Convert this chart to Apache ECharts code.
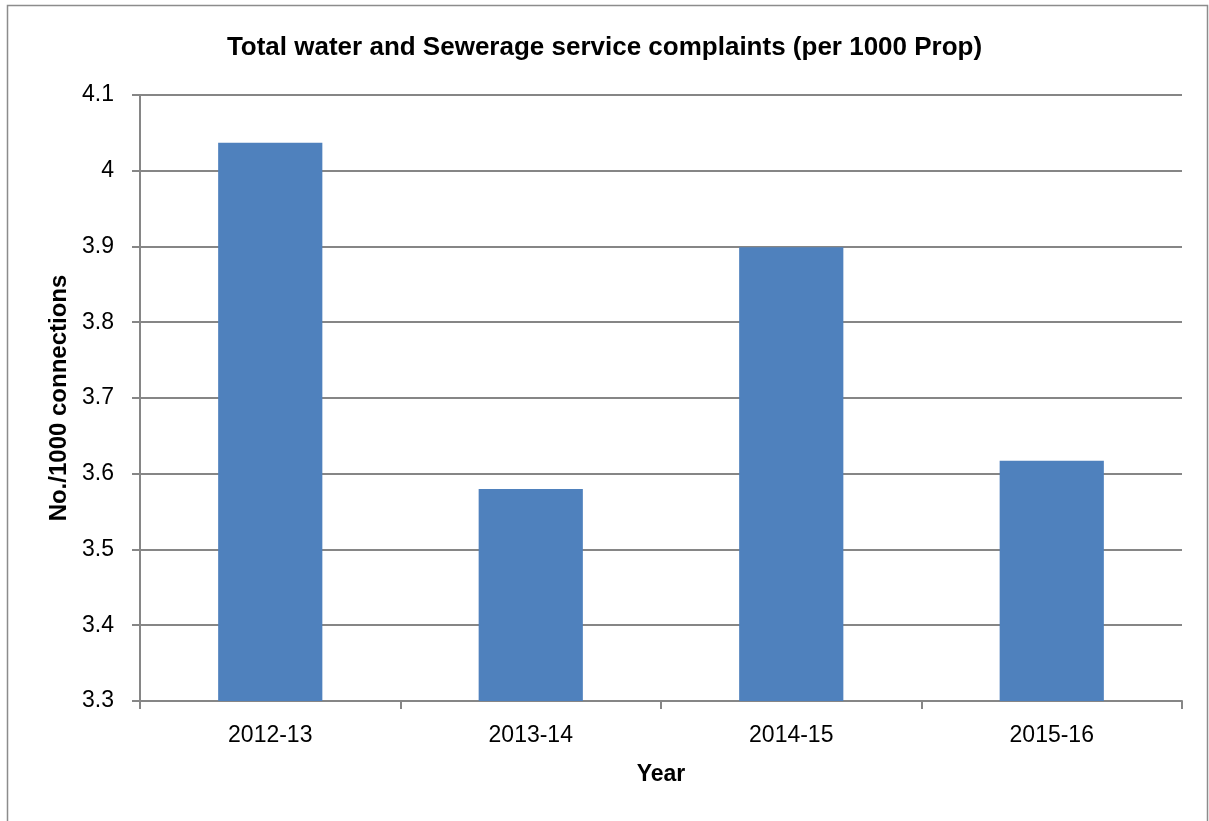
<!DOCTYPE html>
<html>
<head>
<meta charset="utf-8">
<script src="https://cdn.jsdelivr.net/npm/echarts@6/dist/echarts.min.js"></script>
<style>
  html, body { margin: 0; padding: 0; background: #fff; }
  #chart { width: 1209px; height: 821px; }
</style>
</head>
<body>
<div id="chart"></div>
<script>
const years = ['2012-13', '2013-14', '2014-15', '2015-16']
const complaints = [4.037, 3.580, 3.899, 3.617]
const yTicks = { min: 3.3, max: 4.1, step: 0.1 }

const chart = echarts.init(document.getElementById('chart'))
const font = 'Liberation Sans, Arial, sans-serif'

chart.setOption({
  animation: false,
  backgroundColor: '#fff',
  title: {
    text: 'Total water and Sewerage service complaints (per 1000 Prop)',
    left: 'center',
    top: 30,
    textStyle: { fontFamily: font, fontSize: 26, fontWeight: 'bold', color: '#000' }
  },
  graphic: [{
    type: 'rect',
    shape: { x: 7.5, y: 5.5, width: 1200, height: 830 },
    style: { fill: 'none', stroke: '#8c8c8c', lineWidth: 1.5 },
    silent: true
  }],
  grid: { left: 140, right: 27, top: 95, bottom: 120 },
  xAxis: {
    type: 'category',
    data: years,
    name: 'Year',
    nameLocation: 'middle',
    nameGap: 62,
    nameTextStyle: { fontFamily: font, fontSize: 23, fontWeight: 'bold', color: '#000' },
    axisLine: { lineStyle: { color: '#868686', width: 2 } },
    axisTick: { show: true, alignWithLabel: false, length: 8, lineStyle: { color: '#868686', width: 2 } },
    axisLabel: { fontFamily: font, fontSize: 23, color: '#000', margin: 23 }
  },
  yAxis: {
    type: 'value',
    min: yTicks.min,
    max: yTicks.max,
    interval: yTicks.step,
    name: 'No./1000 connections',
    nameLocation: 'middle',
    nameGap: 68,
    nameRotate: 90,
    nameTextStyle: { fontFamily: font, fontSize: 24, fontWeight: 'bold', color: '#000' },
    axisLine: { show: true, lineStyle: { color: '#868686', width: 2 } },
    axisTick: { show: true, length: 8, lineStyle: { color: '#868686', width: 2 } },
    axisLabel: {
      fontFamily: font, fontSize: 23, color: '#000', margin: 26,
      formatter: v => String(Math.round(v * 10) / 10)
    },
    splitLine: { show: true, lineStyle: { color: '#868686', width: 2 } }
  },
  series: [{
    type: 'bar',
    data: complaints,
    barWidth: '40%',
    itemStyle: { color: '#4F81BD' }
  }]
})
</script>
</body>
</html>
